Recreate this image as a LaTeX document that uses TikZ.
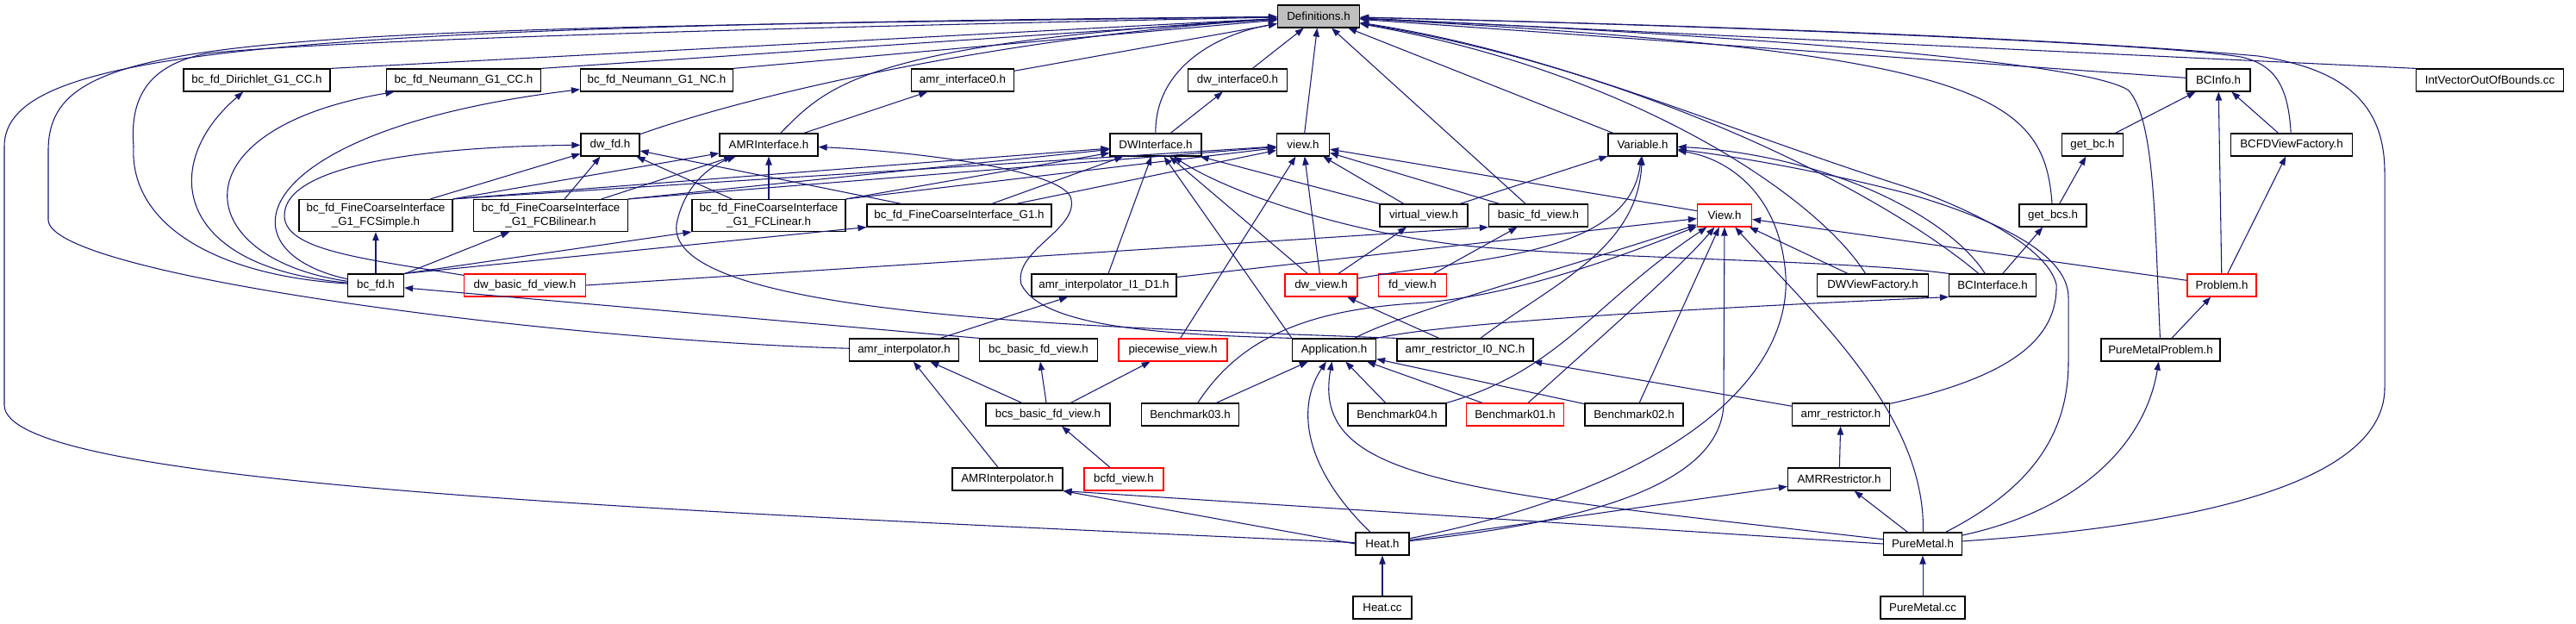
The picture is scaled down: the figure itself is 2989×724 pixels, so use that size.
\documentclass[tikz,border=0pt]{standalone}
\usepackage{fontspec}
\setmainfont{Liberation Sans}
\usepackage{xcolor}
\usepackage{tikz}
\usetikzlibrary{arrows.meta}
\definecolor{edgeblue}{RGB}{25,25,112}

\begin{document}
\begin{tikzpicture}[
        x=0.75pt, y=-0.75pt,
        filebox/.style={
            draw,
            fill=white,
            align=center,
            inner xsep=3pt,
            inner ysep=3.5pt,
            minimum height=19.5pt,
            line width=0.9pt,
            font=\fontsize{10}{11.5}\selectfont
        },
        redbox/.style={filebox, draw=red},
        rootbox/.style={filebox, fill=black!25},
        fw/.style={minimum width=#1*0.75pt},
        incl/.style={
            -{Triangle[length=7.5pt,width=5.5pt]},
            draw=edgeblue,
            line width=0.8pt
        }
    ]
        \useasboundingbox (0,0) rectangle (2989,724);

        \node[rootbox, fw=95] (defs) at (1530,19) {Definitions.h};

        \node[filebox, fw=170] (dirichlet) at (298,93) {bc\_fd\_Dirichlet\_G1\_CC.h};
        \node[filebox, fw=179] (neumanncc) at (538,93) {bc\_fd\_Neumann\_G1\_CC.h};
        \node[filebox, fw=177] (neumannnc) at (762,93) {bc\_fd\_Neumann\_G1\_NC.h};
        \node[filebox, fw=119] (amrifzero) at (1117,93) {amr\_interface0.h};
        \node[filebox, fw=115] (dwifzero) at (1436,93) {dw\_interface0.h};
        \node[filebox, fw=74] (bcinfo) at (2574,93) {BCInfo.h};
        \node[filebox, fw=171] (intvec) at (2889,93) {IntVectorOutOfBounds.cc};

        \node[filebox, fw=68] (dwfd) at (708,168) {dw\_fd.h};
        \node[filebox, fw=114] (amrif) at (892,168) {AMRInterface.h};
        \node[filebox, fw=106] (dwif) at (1341,168) {DWInterface.h};
        \node[filebox, fw=61] (viewlc) at (1512,168) {view.h};
        \node[filebox, fw=80] (variable) at (1906,168) {Variable.h};
        \node[filebox, fw=71] (getbc) at (2428,168) {get\_bc.h};
        \node[filebox, fw=141] (bcfdvf) at (2659,168) {BCFDViewFactory.h};

        \node[filebox, fw=178] (fcsimple) at (436,250) {bc\_fd\_FineCoarseInterface\\\_G1\_FCSimple.h};
        \node[filebox, fw=179] (fcbilin) at (639,250) {bc\_fd\_FineCoarseInterface\\\_G1\_FCBilinear.h};
        \node[filebox, fw=178] (fclinear) at (892,250) {bc\_fd\_FineCoarseInterface\\\_G1\_FCLinear.h};
        \node[filebox, fw=214] (fcgone) at (1113,250) {bc\_fd\_FineCoarseInterface\_G1.h};
        \node[filebox, fw=102] (virtview) at (1652,250) {virtual\_view.h};
        \node[filebox, fw=115] (basicfd) at (1785,250) {basic\_fd\_view.h};
        \node[redbox, fw=63] (viewuc) at (2001,250) {View.h};
        \node[filebox, fw=78] (getbcs) at (2382,250) {get\_bcs.h};

        \node[filebox, fw=65] (bcfd) at (436,331) {bc\_fd.h};
        \node[redbox, fw=141] (dwbasicfd) at (609,331) {dw\_basic\_fd\_view.h};
        \node[filebox, fw=168] (interpione) at (1281,331) {amr\_interpolator\_I1\_D1.h};
        \node[redbox, fw=84] (dwview) at (1533,331) {dw\_view.h};
        \node[redbox, fw=79] (fdview) at (1639,331) {fd\_view.h};
        \node[filebox, fw=129] (dwvf) at (2173,331) {DWViewFactory.h};
        \node[filebox, fw=101] (bcif) at (2312,331) {BCInterface.h};
        \node[redbox, fw=80] (problem) at (2578,331) {Problem.h};

        \node[filebox, fw=127] (amrinterp) at (1049,406) {amr\_interpolator.h};
        \node[filebox, fw=137] (bcbasicfd) at (1205,406) {bc\_basic\_fd\_view.h};
        \node[redbox, fw=126] (piecewise) at (1361,406) {piecewise\_view.h};
        \node[filebox, fw=97] (application) at (1548,406) {Application.h};
        \node[filebox, fw=158] (restrzero) at (1700,406) {amr\_restrictor\_I0\_NC.h};
        \node[filebox, fw=138] (pmproblem) at (2507,406) {PureMetalProblem.h};

        \node[filebox, fw=144] (bcsbasicfd) at (1216,481) {bcs\_basic\_fd\_view.h};
        \node[filebox, fw=113] (bmthree) at (1381,481) {Benchmark03.h};
        \node[filebox, fw=114] (bmfour) at (1621,481) {Benchmark04.h};
        \node[redbox, fw=113] (bmone) at (1758,481) {Benchmark01.h};
        \node[filebox, fw=114] (bmtwo) at (1896,481) {Benchmark02.h};
        \node[filebox, fw=113] (amrrestr) at (2136,481) {amr\_restrictor.h};

        \node[filebox, fw=128] (amrinterpuc) at (1169,556) {AMRInterpolator.h};
        \node[redbox, fw=92] (bcfdview) at (1304,556) {bcfd\_view.h};
        \node[filebox, fw=119] (amrrestruc) at (2134,556) {AMRRestrictor.h};

        \node[filebox, fw=62] (heath) at (1604,631) {Heat.h};
        \node[filebox, fw=91] (puremetalh) at (2231,631) {PureMetal.h};

        \node[filebox, fw=68] (heatcc) at (1604,705) {Heat.cc};
        \node[filebox, fw=98] (puremetalcc) at (2231,705) {PureMetal.cc};

        % includes of Definitions.h
        \draw[incl] (dirichlet.north east) -- (defs);
        \draw[incl] (neumanncc.north east) -- (defs);
        \draw[incl] (neumannnc.north east) -- (defs);
        \draw[incl] (amrifzero) -- (defs);
        \draw[incl] (dwifzero) -- (defs);
        \draw[incl] (dwfd) .. controls (900,100) and (1200,40) .. (defs);
        \draw[incl] (amrif) .. controls (960,100) and (1000,50) .. (defs);
        \draw[incl] (dwif) .. controls (1340,80) and (1410,40) .. (defs);
        \draw[incl] (viewlc) -- (defs);
        \draw[incl] (basicfd) -- (defs);
        \draw[incl] (variable) -- (defs);
        \draw[incl] (bcinfo) -- (defs);
        \draw[incl] (intvec.north west) -- (defs);
        \draw[incl] (bcfd) .. controls (250,320) and (150,260) .. (155,170) .. controls (150,110) and (175,75) .. (240,62) .. controls (400,45) and (1000,30) .. (defs);
        \draw[incl] (amrinterp) .. controls (650,395) and (56,320) .. (56,255) -- (56,175) .. controls (56,40) and (250,35) .. (defs);
        \draw[incl] (heath) .. controls (700,590) and (5,560) .. (5,470) -- (5,170) .. controls (5,60) and (300,30) .. (defs);
        \draw[incl] (bcfdvf) .. controls (2655,100) and (2640,75) .. (2600,66) .. controls (2500,50) and (2000,30) .. (defs);
        \draw[incl] (getbcs) .. controls (2372,110) and (2300,60) .. (defs);
        \draw[incl] (pmproblem) .. controls (2500,250) and (2500,140) .. (2470,105) .. controls (2420,70) and (2000,40) .. (defs);
        \draw[incl] (puremetalh) .. controls (2620,605) and (2767,540) .. (2767,450) -- (2767,200) .. controls (2767,120) and (2720,80) .. (2620,65) .. controls (2400,45) and (2000,30) .. (defs);
        \draw[incl] (amrrestr) .. controls (2320,440) and (2388,400) .. (2386,330) .. controls (2375,285) and (2280,240) .. (2215,218) .. controls (2000,150) and (1800,60) .. (defs);
        \draw[incl] (bcif) .. controls (2180,220) and (1900,80) .. (defs);
        \draw[incl] (dwvf) .. controls (2110,230) and (1900,85) .. (defs);

        \draw[incl] (amrif) -- (amrifzero);
        \draw[incl] (dwif) -- (dwifzero);

        % bc_fd.h and the fine/coarse interfaces
        \draw[incl] (bcfd) .. controls (200,310) and (185,190) .. (dirichlet);
        \draw[incl] (bcfd) .. controls (220,300) and (200,150) .. (neumanncc);
        \draw[incl] (bcfd) .. controls (250,290) and (290,150) .. (neumannnc);
        \draw[incl] (bcfd) -- (fcsimple);
        \draw[incl] (bcfd) -- (fcbilin);
        \draw[incl] (bcfd.north east) -- (fclinear.south west);
        \draw[incl] (bcfd.north east) -- (fcgone.south west);
        \draw[incl] (fcsimple) -- (dwfd);
        \draw[incl] (fcsimple.north east) -- (amrif);
        \draw[incl] (fcsimple.north east) -- (dwif);
        \draw[incl] (fcsimple.north east) -- (viewlc);
        \draw[incl] (fcbilin) -- (dwfd);
        \draw[incl] (fcbilin) -- (amrif);
        \draw[incl] (fcbilin.north east) -- (dwif);
        \draw[incl] (fcbilin.north east) -- (viewlc);
        \draw[incl] (fclinear) -- (dwfd);
        \draw[incl] (fclinear) -- (amrif);
        \draw[incl] (fclinear.north east) -- (dwif);
        \draw[incl] (fclinear.north east) -- (viewlc);
        \draw[incl] (fcgone) -- (dwfd);
        \draw[incl] (fcgone) -- (dwif);
        \draw[incl] (fcgone) -- (viewlc);
        \draw[incl] (dwbasicfd) .. controls (420,300) and (330,290) .. (330,250) .. controls (330,190) and (500,170) .. (dwfd);
        \draw[incl] (dwbasicfd.east) -- (basicfd.south west);

        % interpolators and views
        \draw[incl] (amrinterp) -- (interpione);
        \draw[incl] (interpione) -- (dwif);
        \draw[incl] (interpione) -- (viewuc);
        \draw[incl] (amrinterpuc) -- (amrinterp);
        \draw[incl] (bcbasicfd.north west) -- (bcfd);
        \draw[incl] (bcsbasicfd) -- (amrinterp);
        \draw[incl] (bcsbasicfd) -- (bcbasicfd);
        \draw[incl] (bcsbasicfd) -- (piecewise);
        \draw[incl] (bcfdview) -- (bcsbasicfd);
        \draw[incl] (piecewise) -- (viewlc);
        \draw[incl] (dwview) -- (dwif);
        \draw[incl] (dwview) -- (viewlc);
        \draw[incl] (dwview) -- (virtview);
        \draw[incl] (dwview) .. controls (1700,300) and (1890,300) .. (variable);
        \draw[incl] (virtview) -- (viewlc);
        \draw[incl] (virtview) -- (dwif);
        \draw[incl] (virtview) -- (variable);
        \draw[incl] (basicfd) -- (viewlc);
        \draw[incl] (fdview) -- (basicfd);
        \draw[incl] (viewuc) -- (viewlc);
        \draw[incl] (dwvf) -- (viewuc);

        % applications and benchmarks
        \draw[incl] (application.north west) -- (dwif);
        \draw[incl] (application) .. controls (1620,365) and (1820,310) .. (viewuc);
        \draw[incl] (application.north east) .. controls (1700,370) and (2100,352) .. (bcif.south west);
        \draw[incl] (application.north west) .. controls (1350,388) and (1210,380) .. (1185,330) .. controls (1175,290) and (1255,265) .. (1242,228) .. controls (1225,195) and (1050,175) .. (amrif);
        \draw[incl] (bmthree) -- (application);
        \draw[incl] (bmfour) -- (application);
        \draw[incl] (bmone) -- (application);
        \draw[incl] (bmtwo) -- (application);
        \draw[incl] (bmthree) .. controls (1440,390) and (1520,360) .. (1640,352) .. controls (1760,345) and (1900,290) .. (viewuc);
        \draw[incl] (bmfour.north east) .. controls (1810,430) and (1850,350) .. (viewuc);
        \draw[incl] (bmone) .. controls (1870,380) and (1950,310) .. (viewuc);
        \draw[incl] (bmtwo) -- (viewuc);
        \draw[incl] (restrzero) -- (dwview);
        \draw[incl] (restrzero) .. controls (1800,330) and (1900,290) .. (variable);
        \draw[incl] (restrzero.north west) .. controls (1300,380) and (770,370) .. (785,260) .. controls (795,210) and (830,190) .. (amrif);
        \draw[incl] (amrrestr) -- (restrzero);
        \draw[incl] (amrrestruc) -- (amrrestr);

        % Heat and PureMetal
        \draw[incl] (heath) .. controls (1510,540) and (1505,470) .. (application);
        \draw[incl] (heath.west) -- (amrinterpuc.south east);
        \draw[incl] (heath) -- (amrrestruc);
        \draw[incl] (heath) .. controls (1960,560) and (2078,430) .. (2072,320) .. controls (2066,230) and (2010,185) .. (variable);
        \draw[incl] (heath) .. controls (1850,605) and (1995,560) .. (2000,470) -- (viewuc);
        \draw[incl] (puremetalh) .. controls (1700,570) and (1520,560) .. (application);
        \draw[incl] (puremetalh.west) -- (amrinterpuc.south east);
        \draw[incl] (puremetalh) -- (amrrestruc);
        \draw[incl] (puremetalh) .. controls (2235,480) and (2100,360) .. (viewuc);
        \draw[incl] (puremetalh) .. controls (2420,590) and (2490,510) .. (pmproblem);
        \draw[incl] (puremetalh) .. controls (2350,570) and (2400,510) .. (2400,420) -- (2400,345) .. controls (2400,290) and (2300,250) .. (2215,225) .. controls (2100,195) and (2000,180) .. (variable);
        \draw[incl] (heatcc) -- (heath);
        \draw[incl] (puremetalcc) -- (puremetalh);

        % boundary conditions and problems
        \draw[incl] (problem) -- (viewuc);
        \draw[incl] (problem) -- (bcinfo);
        \draw[incl] (problem) -- (bcfdvf);
        \draw[incl] (pmproblem) -- (problem);
        \draw[incl] (bcfdvf) -- (bcinfo);
        \draw[incl] (getbc) -- (bcinfo);
        \draw[incl] (getbcs) -- (getbc);
        \draw[incl] (bcif) -- (getbcs);
        \draw[incl] (bcif) .. controls (2260,250) and (2120,180) .. (variable);
        \draw[incl] (bcif.north west) .. controls (2150,302) and (1850,300) .. (1700,285) .. controls (1550,268) and (1420,220) .. (dwif);

    \end{tikzpicture}
\end{document}
